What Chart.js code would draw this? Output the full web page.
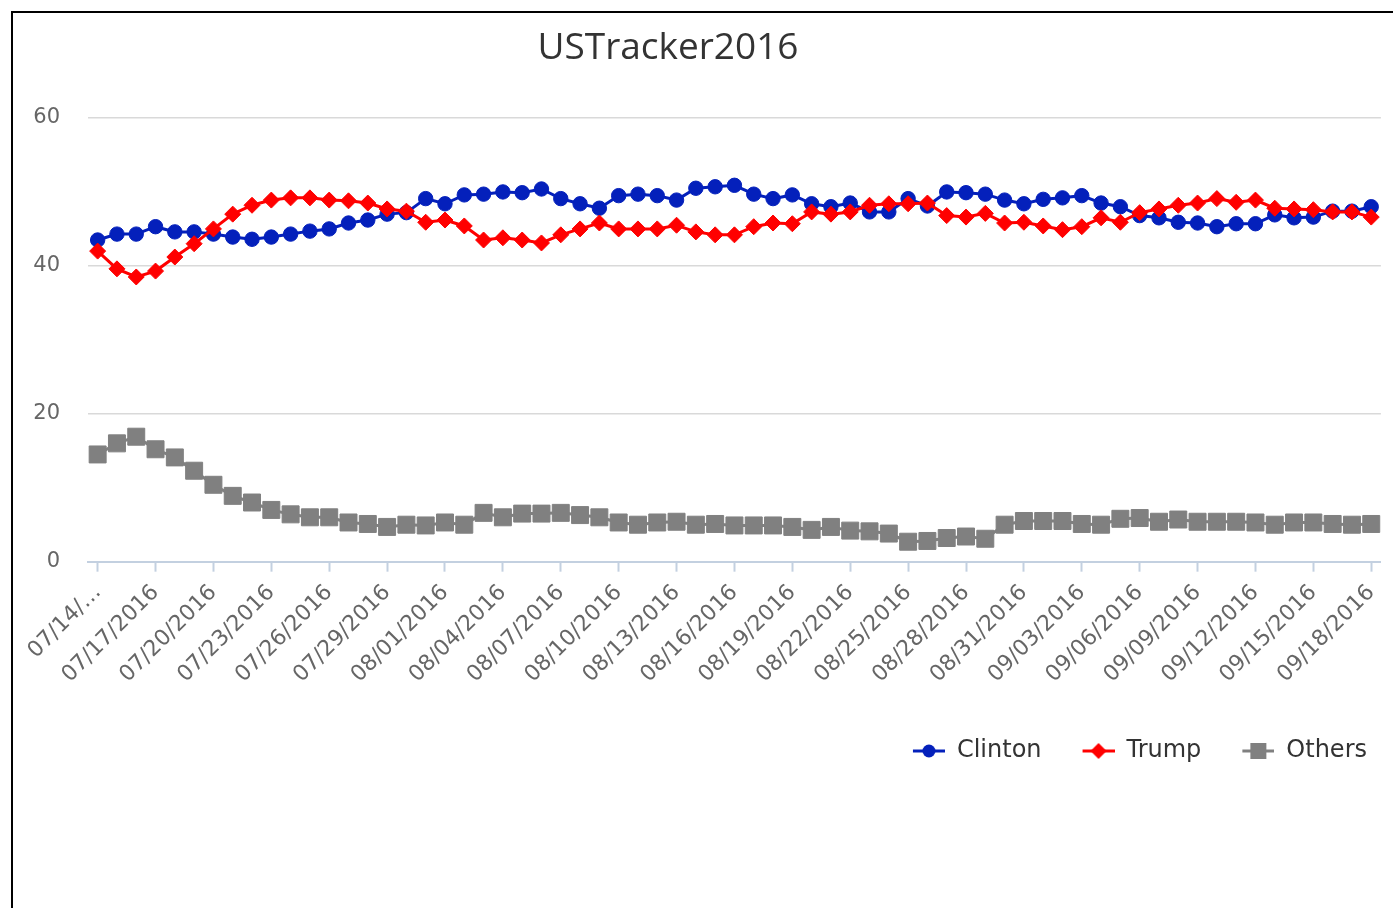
<!DOCTYPE html>
<html>
<head>
<meta charset="utf-8">
<title>USTracker2016</title>
<script src="https://cdn.jsdelivr.net/npm/chart.js@4/dist/chart.umd.min.js"></script>
<style>
  html, body { margin: 0; padding: 0; background: #fff; overflow: hidden; }
  #frame {
    position: absolute;
    left: 11px;
    top: 11px;
    width: 1382px;
    height: 897px;
    border-left: 2px solid #000;
    border-top: 2px solid #000;
    overflow: hidden;
  }
  #trackerChart { display: block; }
  #chartTitle {
    position: absolute;
    left: 0;
    top: 10px;
    width: 1310px;
    text-align: center;
    font-family: "Open Sans", sans-serif;
    font-size: 37px;
    line-height: 44px;
    color: #333;
  }
</style>
</head>
<body>
<div id="frame">
  <canvas id="trackerChart" width="1385" height="895"></canvas>
  <div id="chartTitle">USTracker2016</div>
</div>
<script>
// Poll dates (one per day)
const dates = [
  '07/14/2016', '07/15/2016', '07/16/2016', '07/17/2016', '07/18/2016', '07/19/2016',
  '07/20/2016', '07/21/2016', '07/22/2016', '07/23/2016', '07/24/2016', '07/25/2016',
  '07/26/2016', '07/27/2016', '07/28/2016', '07/29/2016', '07/30/2016', '07/31/2016',
  '08/01/2016', '08/02/2016', '08/03/2016', '08/04/2016', '08/05/2016', '08/06/2016',
  '08/07/2016', '08/08/2016', '08/09/2016', '08/10/2016', '08/11/2016', '08/12/2016',
  '08/13/2016', '08/14/2016', '08/15/2016', '08/16/2016', '08/17/2016', '08/18/2016',
  '08/19/2016', '08/20/2016', '08/21/2016', '08/22/2016', '08/23/2016', '08/24/2016',
  '08/25/2016', '08/26/2016', '08/27/2016', '08/28/2016', '08/29/2016', '08/30/2016',
  '08/31/2016', '09/01/2016', '09/02/2016', '09/03/2016', '09/04/2016', '09/05/2016',
  '09/06/2016', '09/07/2016', '09/08/2016', '09/09/2016', '09/10/2016', '09/11/2016',
  '09/12/2016', '09/13/2016', '09/14/2016', '09/15/2016', '09/16/2016', '09/17/2016',
  '09/18/2016'
];

const clinton = [
  43.5, 44.3, 44.3, 45.3, 44.6, 44.6, 44.3, 43.9, 43.6, 43.9, 44.3, 44.7,
  45.0, 45.8, 46.2, 47.0, 47.2, 49.1, 48.4, 49.6, 49.7, 50.0, 49.9, 50.4,
  49.1, 48.4, 47.8, 49.5, 49.7, 49.5, 48.9, 50.5, 50.7, 50.9, 49.7, 49.1,
  49.6, 48.4, 48.0, 48.5, 47.3, 47.3, 49.1, 48.1, 50.0, 49.9, 49.7, 48.9,
  48.4, 49.0, 49.2, 49.5, 48.5, 48.0, 46.8, 46.5, 45.9, 45.8, 45.3, 45.7,
  45.7, 46.9, 46.5, 46.6, 47.4, 47.4, 48.0
];

const trump = [
  42.0, 39.6, 38.5, 39.3, 41.2, 43.0, 45.0, 47.0, 48.2, 48.9, 49.2, 49.2,
  48.9, 48.8, 48.5, 47.7, 47.4, 45.9, 46.2, 45.4, 43.5, 43.8, 43.5, 43.1,
  44.2, 45.0, 45.8, 45.0, 45.0, 45.0, 45.5, 44.6, 44.2, 44.2, 45.3, 45.8,
  45.7, 47.3, 47.0, 47.3, 48.2, 48.4, 48.4, 48.5, 46.8, 46.6, 47.1, 45.8,
  45.9, 45.4, 44.9, 45.3, 46.5, 45.9, 47.2, 47.7, 48.2, 48.5, 49.1, 48.6,
  48.9, 47.8, 47.7, 47.6, 47.3, 47.3, 46.6
];

const others = [
  14.5, 16.0, 16.9, 15.2, 14.1, 12.3, 10.4, 8.9, 8.0, 7.0, 6.4, 6.0,
  6.0, 5.3, 5.1, 4.7, 5.0, 4.9, 5.3, 5.0, 6.6, 6.0, 6.5, 6.5,
  6.6, 6.3, 6.0, 5.3, 5.0, 5.3, 5.4, 5.0, 5.1, 4.9, 4.9, 4.9,
  4.7, 4.3, 4.7, 4.2, 4.1, 3.8, 2.7, 2.8, 3.2, 3.4, 3.1, 5.0,
  5.5, 5.5, 5.5, 5.1, 5.0, 5.8, 5.9, 5.4, 5.7, 5.4, 5.4, 5.4,
  5.3, 5.0, 5.3, 5.3, 5.1, 5.0, 5.1
];

const yTicks = [0, 20, 40, 60];

// Series colors
const colors = {
  clinton: '#0420bb',
  trump: '#ff0000',
  others: '#808080',
  grid: '#d9d9d9',
  axis: '#c3d0e0',
  tick: '#666666',
  text: '#333333'
};

const tickFont = { family: '"DejaVu Sans", Verdana, sans-serif', size: 21 };

/**
 * Legend icon: short line with the series marker on it.
 * Blank room on the left works as part of the gap between legend items.
 */
function makeLegendIcon(color, shape) {
  const c = document.createElement('canvas');
  c.width = 45;
  c.height = 24;
  const ctx = c.getContext('2d');
  const cx = 29, cy = 12;
  ctx.strokeStyle = color;
  ctx.fillStyle = color;
  ctx.lineWidth = 3;
  ctx.beginPath();
  ctx.moveTo(13, cy);
  ctx.lineTo(45, cy);
  ctx.stroke();
  ctx.beginPath();
  if (shape === 'circle') {
    ctx.arc(cx, cy, 6.5, 0, Math.PI * 2);
  } else if (shape === 'diamond') {
    ctx.moveTo(cx - 8, cy);
    ctx.lineTo(cx, cy - 8);
    ctx.lineTo(cx + 8, cy);
    ctx.lineTo(cx, cy + 8);
    ctx.closePath();
  } else {
    ctx.rect(cx - 8, cy - 8, 16, 16);
  }
  ctx.fill();
  return c;
}

const legendIcons = [
  makeLegendIcon(colors.clinton, 'circle'),
  makeLegendIcon(colors.trump, 'diamond'),
  makeLegendIcon(colors.others, 'square')
];

const ctx = document.getElementById('trackerChart').getContext('2d');

const trackerChart = new Chart(ctx, {
  type: 'line',
  data: {
    labels: dates,
    datasets: [
      {
        label: 'Clinton',
        data: clinton,
        order: 1,
        borderColor: colors.clinton,
        backgroundColor: colors.clinton,
        borderWidth: 3,
        pointStyle: 'circle',
        pointRadius: 7.2,
        pointBorderWidth: 1,
        tension: 0
      },
      {
        label: 'Trump',
        data: trump,
        order: 0,
        borderColor: colors.trump,
        backgroundColor: colors.trump,
        borderWidth: 3,
        pointStyle: 'rectRot',
        pointRadius: 8,
        pointBorderWidth: 1,
        tension: 0
      },
      {
        label: 'Others',
        data: others,
        order: 2,
        borderColor: colors.others,
        backgroundColor: colors.others,
        borderWidth: 3,
        pointStyle: 'rect',
        pointRadius: 12,
        pointBorderWidth: 1,
        tension: 0
      }
    ]
  },
  options: {
    responsive: false,
    animation: false,
    layout: {
      padding: { left: 0, right: 3, top: 105, bottom: 135 }
    },
    plugins: {
      title: { display: false },
      legend: {
        position: 'bottom',
        align: 'end',
        labels: {
          usePointStyle: true,
          pointStyleWidth: 45,
          padding: 28,
          color: colors.text,
          font: { family: '"DejaVu Sans", Verdana, sans-serif', size: 24 },
          sort: (a, b) => a.datasetIndex - b.datasetIndex,
          generateLabels: (chart) => {
            const items = Chart.defaults.plugins.legend.labels.generateLabels(chart);
            items.forEach(item => {
              item.pointStyle = legendIcons[item.datasetIndex];
            });
            return items;
          }
        }
      },
      tooltip: { enabled: false }
    },
    scales: {
      x: {
        offset: true,
        border: { display: true, color: colors.axis, width: 2 },
        grid: {
          display: true,
          drawOnChartArea: false,
          drawTicks: true,
          tickLength: 10,
          tickWidth: 2,
          tickColor: (c) => (c.index % 3 === 0 ? colors.axis : 'rgba(0,0,0,0)')
        },
        afterFit: (scale) => {
          // room between the rotated labels and the legend
          scale.height += 15;
        },
        ticks: {
          autoSkip: false,
          minRotation: 45,
          maxRotation: 45,
          padding: 8,
          color: colors.tick,
          font: { family: tickFont.family, size: 22 },
          callback: (value, index) => {
            if (index % 3 !== 0) return '';
            if (index === 0) return '07/14/…';
            return dates[index];
          }
        }
      },
      y: {
        min: 0,
        max: 60,
        border: { display: false },
        grid: {
          color: colors.grid,
          lineWidth: 1.5,
          drawTicks: false
        },
        afterFit: (scale) => {
          scale.width = 75;
        },
        afterBuildTicks: (scale) => {
          scale.ticks = yTicks.map(v => ({ value: v }));
        },
        ticks: {
          padding: 28,
          color: colors.tick,
          font: tickFont
        }
      }
    }
  }
});
</script>
</body>
</html>
